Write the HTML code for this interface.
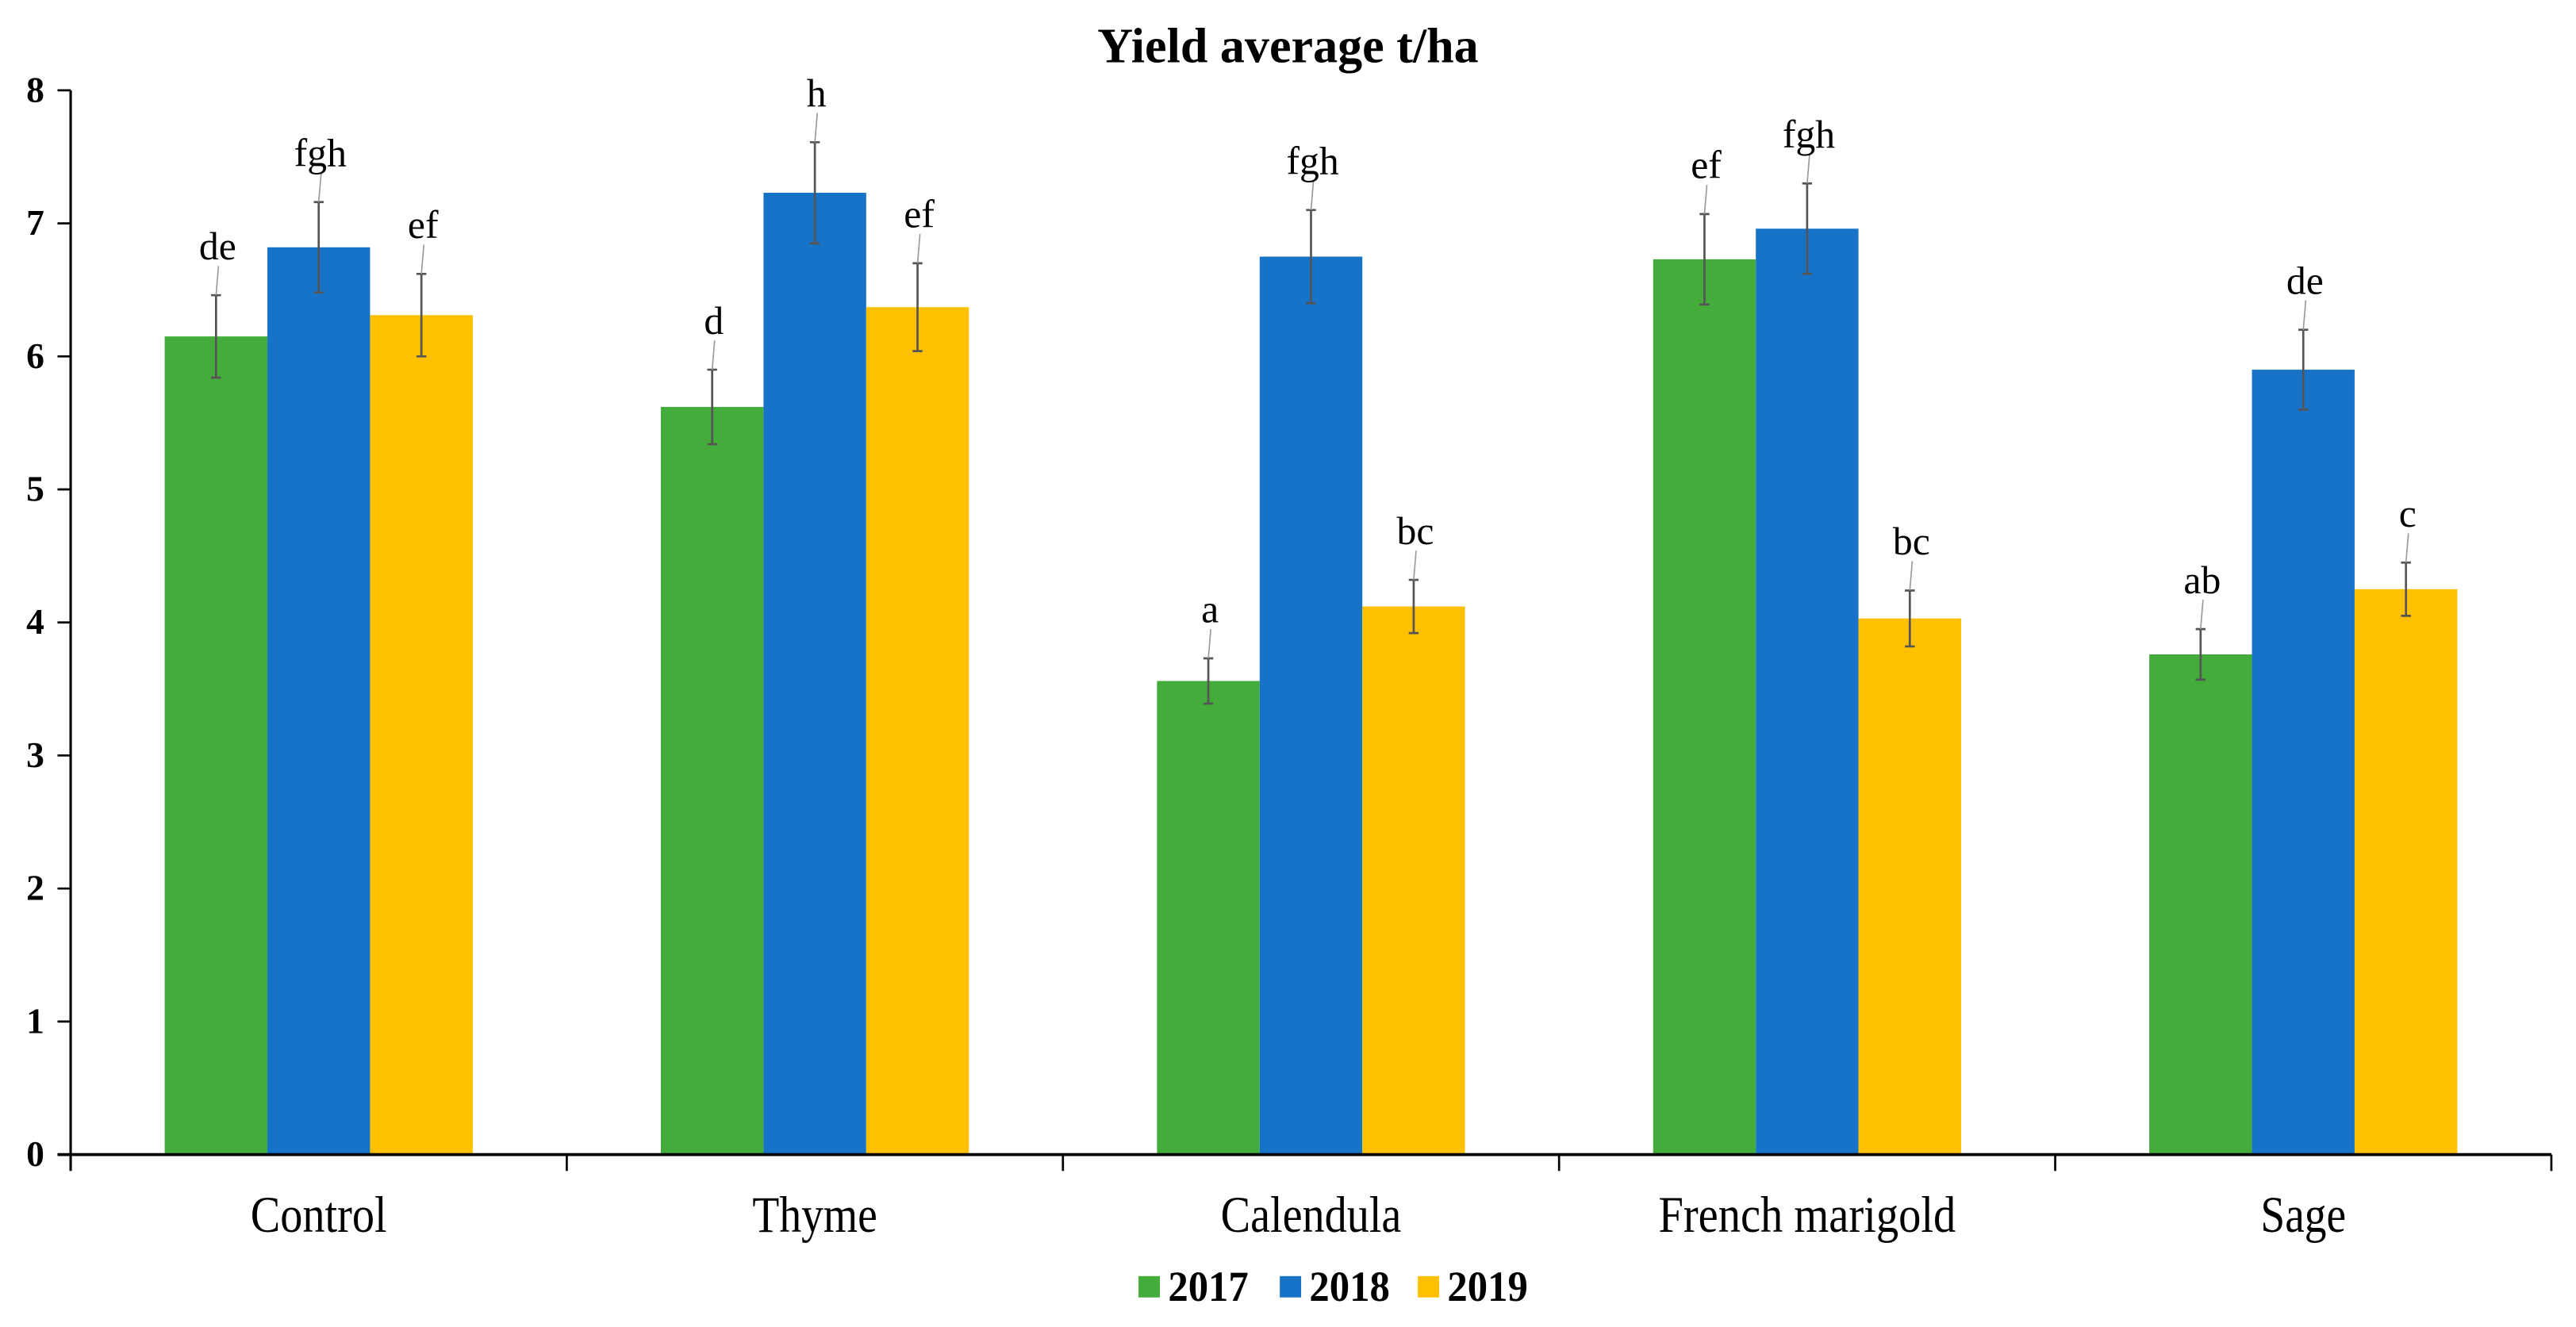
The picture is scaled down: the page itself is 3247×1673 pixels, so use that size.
<!DOCTYPE html>
<html><head><meta charset="utf-8"><style>
html,body{margin:0;padding:0;background:#fff;}
svg{display:block;}
text{font-family:"Liberation Serif",serif;fill:#000;}
</style></head><body>
<svg id="chart" width="3247" height="1673" viewBox="0 0 1568 808" preserveAspectRatio="none" xmlns="http://www.w3.org/2000/svg">
<text x="784" y="38" text-anchor="middle" font-size="30" font-weight="bold" textLength="232" lengthAdjust="spacingAndGlyphs">Yield average t/ha</text>
<g id="plot"></g>
</svg>
<script>
const categories = ["Control","Thyme","Calendula","French marigold","Sage"];
const seriesNames = ["2017","2018","2019"];
const v2017 = [6.15,5.62,3.56,6.73,3.76];
const v2018 = [6.82,7.23,6.75,6.96,5.90];
const v2019 = [6.31,6.37,4.12,4.03,4.25];
const e2017 = [0.31,0.28,0.17,0.34,0.19];
const e2018 = [0.34,0.38,0.35,0.34,0.30];
const e2019 = [0.31,0.33,0.20,0.21,0.20];
const l2017 = ["de","d","a","ef","ab"];
const l2018 = ["fgh","h","fgh","fgh","de"];
const l2019 = ["ef","ef","bc","bc","c"];
const yTicks = [0,1,2,3,4,5,6,7,8];

const colors = ["#43ac3b","#1773c8","#ffc000"];
const catLens = [83,76,110,181,52];
const NS="http://www.w3.org/2000/svg";
const g=document.getElementById('plot');
const x0=43, x1=1553, y0=703, yTop=55, yMax=8;
const y=v=>y0-(v/yMax)*(y0-yTop);
const catW=(x1-x0)/categories.length;
const barW=62.5;
const catX=i=>x0+catW*i+catW/2;
function mk(tag,attrs){const e=document.createElementNS(NS,tag);for(const k in attrs)e.setAttribute(k,attrs[k]);g.appendChild(e);return e;}

const vals=[v2017,v2018,v2019], errs=[e2017,e2018,e2019], labs=[l2017,l2018,l2019];
categories.forEach((c,i)=>{
  for(let s=0;s<3;s++){
    const v=vals[s][i], bx=catX(i)+(s-1.5)*barW;
    const r=mk('rect',{x:bx,y:y(v),width:barW,height:y0-y(v),fill:colors[s]});
    
    
    const cx=bx+barW/2, e=errs[s][i];
    const eb=mk('path',{d:`M${cx} ${y(v+e)}V${y(v-e)}M${cx-3} ${y(v+e)}H${cx+3}M${cx-3} ${y(v-e)}H${cx+3}`,stroke:'#555',"stroke-width":1.3,fill:'none'});
    
    
    const ll=mk('line',{x1:cx,y1:y(v+e),x2:cx+1.5,y2:y(v+e+0.22),stroke:'#999',"stroke-width":0.8});
    
    
    const t=mk('text',{x:cx+1,y:y(v+e+0.27),"text-anchor":'middle',"font-size":24});
    t.textContent=labs[s][i];
    
    
  }
  const ct=mk('text',{x:catX(i),y:750,"text-anchor":'middle',"font-size":31,textLength:catLens[i],lengthAdjust:'spacingAndGlyphs'});
  ct.textContent=c;
  
  
  const tk=mk('line',{x1:x0+catW*(i+1),y1:y0,x2:x0+catW*(i+1),y2:y0+10,stroke:'#000',"stroke-width":1.3});
  
  
});
const ya=mk('line',{x1:x0,y1:yTop,x2:x0,y2:y0+10,stroke:'#000',"stroke-width":1.5});


const xa=mk('line',{x1:x0-8,y1:y0,x2:x1,y2:y0,stroke:'#000',"stroke-width":1.8});


yTicks.forEach(t=>{
  const l=mk('line',{x1:x0-8,y1:y(t),x2:x0,y2:y(t),stroke:'#000',"stroke-width":1.3});
  
  
  const tx=mk('text',{x:27,y:y(t)+7,"text-anchor":'end',"font-size":22,"font-weight":'bold'});
  tx.textContent=t;
  
  
});
const legX=[693,779,863];
seriesNames.forEach((s,i)=>{
  const r=mk('rect',{x:legX[i],y:777,width:13,height:13,fill:colors[i]});
  
  
  const t=mk('text',{x:legX[i]+18,y:792,"font-size":26,"font-weight":'bold',textLength:49,lengthAdjust:'spacingAndGlyphs'});
  t.textContent=s;
  
  
});
</script>
</body></html>
